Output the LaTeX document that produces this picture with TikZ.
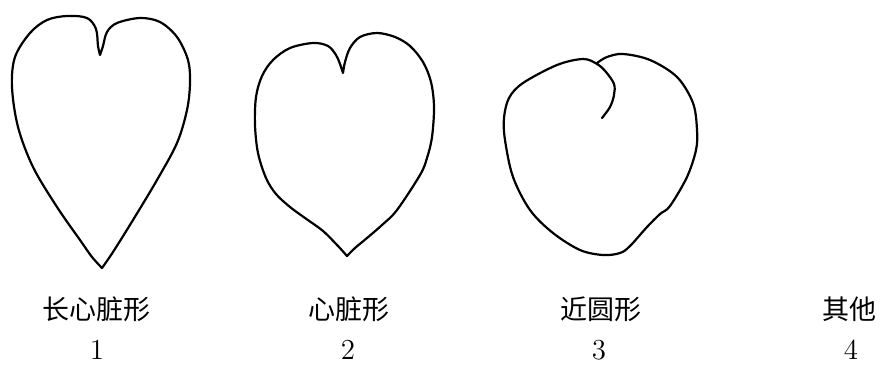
\documentclass[tikz,border=0pt]{standalone}
\usepackage{fontspec}
\newfontfamily\cjk{Noto Sans CJK SC}

\tikzset{
  leaf/.style={line width=1.1pt, line join=round, line cap=round},
  shapelabel/.style={font=\cjk\fontsize{13.5}{16}\selectfont, inner sep=0pt},
  idx/.style={font=\fontsize{14.5}{17}\selectfont, inner sep=0pt}
}

\begin{document}
\begin{tikzpicture}[x=0.5pt, y=-0.5pt]
\useasboundingbox (0,0) rectangle (881,365);

% long heart: notch -> right edge -> tip -> left edge -> notch
\draw[leaf] plot[smooth, tension=0.55] coordinates {(100,55) (103,46) (107,32) (117,23) (140,18) (160,22) (177,37) (188,60) (190,83) (187,110) (177,143) (157,180) (133,220) (113,252) (102,268)}
  -- plot[smooth, tension=0.55] coordinates {(102,268) (92,257) (80,240) (57,207) (33,167) (18,127) (12,87) (15,57) (30,33) (47,20) (67,16) (87,18) (96,29) (98,46) (100,55)} -- cycle;

% heart
\draw[leaf] plot[smooth, tension=0.55] coordinates {(343,73) (345,62) (350,48) (360,37) (377,33) (395,37) (410,46) (423,62) (431,82) (434,107) (432,137) (427,158) (420,175) (397,210) (382,225) (367,238) (355,248) (347,256)}
  -- plot[smooth, tension=0.55] coordinates {(347,256) (338,246) (323,231) (305,218) (290,207) (276,194) (266,178) (258,153) (255,125) (256,97) (262,76) (273,60) (290,48) (313,43) (328,46) (336,55) (340,64) (343,73)} -- cycle;

% near round, with the curled lobe
\draw[leaf] plot[smooth, tension=0.55] coordinates {(597,63) (607,57) (623,54) (650,60) (677,77) (693,103) (697,130) (696,150) (687,177) (670,206) (660,214) (647,227) (630,246) (620,253) (603,255) (580,250) (553,233) (530,210) (513,177) (505,140) (504,118) (509,98) (523,83) (557,65) (583,59) (597,64) (606,72) (614,84) (614,95) (610,107) (602,118)};

% names and numbers
\node[shapelabel] (n1) at (96,309) {长心脏形};
\node[shapelabel] (n2) at (349,309) {心脏形};
\node[shapelabel] (n3) at (601,309) {近圆形};
\node[shapelabel] (n4) at (849,309) {其他};

\node[idx] (i1) at (97,350) {1};
\node[idx] (i2) at (348,350) {2};
\node[idx] (i3) at (599,350) {3};
\node[idx] (i4) at (851,350) {4};
\end{tikzpicture}
\end{document}
